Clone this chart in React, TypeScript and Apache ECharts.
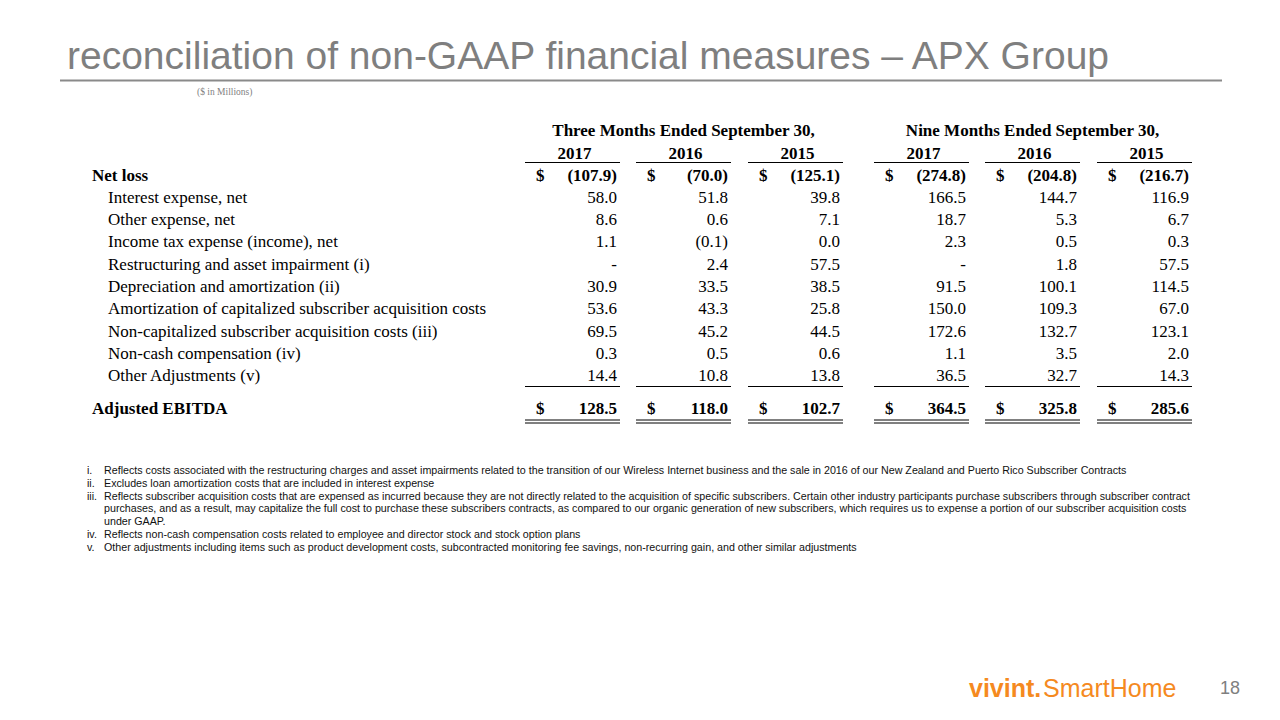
import React, { useEffect, useRef } from "react";
import * as echarts from "echarts";

const titleText = "reconciliation of non-GAAP financial measures – APX Group";
const unitNote = "($ in Millions)";
const periodHeaders = ["Three Months Ended September 30,", "Nine Months Ended September 30,"];
const years = ["2017", "2016", "2015", "2017", "2016", "2015"];
const rowLabels = [
  "Net loss",
  "Interest expense, net",
  "Other expense, net",
  "Income tax expense (income), net",
  "Restructuring and asset impairment (i)",
  "Depreciation and amortization (ii)",
  "Amortization of capitalized subscriber acquisition costs",
  "Non-capitalized subscriber acquisition costs (iii)",
  "Non-cash compensation (iv)",
  "Other Adjustments (v)",
  "Adjusted EBITDA",
];
const threeMonths2017 = [-107.9, 58.0, 8.6, 1.1, null, 30.9, 53.6, 69.5, 0.3, 14.4, 128.5];
const threeMonths2016 = [-70.0, 51.8, 0.6, -0.1, 2.4, 33.5, 43.3, 45.2, 0.5, 10.8, 118.0];
const threeMonths2015 = [-125.1, 39.8, 7.1, 0.0, 57.5, 38.5, 25.8, 44.5, 0.6, 13.8, 102.7];
const nineMonths2017 = [-274.8, 166.5, 18.7, 2.3, null, 91.5, 150.0, 172.6, 1.1, 36.5, 364.5];
const nineMonths2016 = [-204.8, 144.7, 5.3, 0.5, 1.8, 100.1, 109.3, 132.7, 3.5, 32.7, 325.8];
const nineMonths2015 = [-216.7, 116.9, 6.7, 0.3, 57.5, 114.5, 67.0, 123.1, 2.0, 14.3, 285.6];
const footnoteNumerals = ["i.", "ii.", "iii.", "", "", "iv.", "v."];
const footnoteLines = [
  "Reflects costs associated with the restructuring charges and asset impairments related to the transition of our Wireless Internet business and the sale in 2016 of our New Zealand and Puerto Rico Subscriber Contracts",
  "Excludes loan amortization costs that are included in interest expense",
  "Reflects subscriber acquisition costs that are expensed as incurred because they are not directly related to the acquisition of specific subscribers. Certain other industry participants purchase subscribers through subscriber contract",
  "purchases, and as a result, may capitalize the full cost to purchase these subscribers contracts, as compared to our organic generation of new subscribers, which requires us to expense a portion of our subscriber acquisition costs",
  "under GAAP.",
  "Reflects non-cash compensation costs related to employee and director stock and stock option plans",
  "Other adjustments including items such as product development costs, subcontracted monitoring fee savings, non-recurring gain, and other similar adjustments",
];
const logoBold = "vivint.";
const logoRegular = "SmartHome";
const pageNumber = "18";

const columns = [threeMonths2017, threeMonths2016, threeMonths2015, nineMonths2017, nineMonths2016, nineMonths2015];

function fmt(v: number | null): string {
  if (v === null) return "-";
  if (v < 0) return "(" + Math.abs(v).toFixed(1) + ")";
  return v.toFixed(1);
}

export default function App() {
  const ref = useRef<HTMLDivElement>(null);
  useEffect(() => {
    document.body.style.margin = "0";
    const chart = echarts.init(ref.current!, null, { renderer: "svg" });
    const serif = "'Liberation Serif', 'Times New Roman', serif";
    const sans = "'Liberation Sans', Arial, sans-serif";
    const els: any[] = [];
    const txt = (x: number, y: number, text: string, o: any = {}) =>
      els.push({
        type: "text",
        x,
        y,
        silent: true,
        style: {
          text,
          fill: o.fill || "#000",
          fontSize: o.size || 17,
          fontFamily: o.family || serif,
          fontWeight: o.bold ? "bold" : "normal",
          textAlign: o.align || "left",
          textVerticalAlign: "middle",
        },
      });
    const line = (x1: number, y1: number, x2: number, y2: number, stroke = "#000", w = 1) =>
      els.push({ type: "line", silent: true, shape: { x1, y1, x2, y2 }, style: { stroke, lineWidth: w } });

    // title
    txt(67, 55, titleText, { family: sans, size: 39, fill: "#7f7f7f" });
    line(60, 80.5, 1222, 80.5, "#8a8a8a", 2);
    txt(197, 92, unitNote, { size: 9.5, fill: "#7f7f7f" });

    // table layout
    const colLeft = [525, 636, 748, 874, 985, 1097];
    const colW = 95;
    const headerY = 130;
    const yearY = 153;
    const rowY = rowLabels.map((_, i) => (i < rowLabels.length - 1 ? 175 + i * 22.3 : 408));

    txt(colLeft[1] + colW / 2, headerY, periodHeaders[0], { bold: true, align: "center" });
    txt(colLeft[4] + colW / 2, headerY, periodHeaders[1], { bold: true, align: "center" });
    years.forEach((y, c) => {
      txt(colLeft[c] + colW / 2 + 2, yearY, y, { bold: true, align: "center" });
      line(colLeft[c], 162.5, colLeft[c] + colW, 162.5, "#000", 1.2);
      line(colLeft[c], 386.5, colLeft[c] + colW, 386.5, "#000", 1.2);
      line(colLeft[c], 420, colLeft[c] + colW, 420, "#000", 1);
      line(colLeft[c], 423, colLeft[c] + colW, 423, "#000", 1);
    });

    rowLabels.forEach((label, r) => {
      const total = r === 0 || r === rowLabels.length - 1;
      txt(total ? 92 : 108, rowY[r], label, { bold: total });
      columns.forEach((col, c) => {
        const v = col[r];
        if (total) txt(colLeft[c] + 11, rowY[r], "$", { bold: true });
        txt(colLeft[c] + colW - 3, rowY[r], fmt(v), { bold: total, align: "right" });
      });
    });

    // footnotes
    footnoteLines.forEach((t, i) => {
      const y = 470 + i * 12.8;
      if (footnoteNumerals[i]) txt(87, y, footnoteNumerals[i], { family: sans, size: 10.7, fill: "#111" });
      txt(104, y, t, { family: sans, size: 10.7, fill: "#111" });
    });

    // logo & page number
    txt(969, 688, logoBold, { family: sans, size: 25, bold: true, fill: "#f58a1f" });
    txt(1043, 688, logoRegular, { family: sans, size: 25, fill: "#f58a1f" });
    txt(1240, 688, pageNumber, { family: sans, size: 18, fill: "#7f7f7f", align: "right" });

    chart.setOption({ animation: false, graphic: { elements: els } });
    return () => chart.dispose();
  }, []);
  return <div ref={ref} style={{ position: "fixed", left: 0, top: 0, width: 1280, height: 720, background: "#fff" }} />;
}
